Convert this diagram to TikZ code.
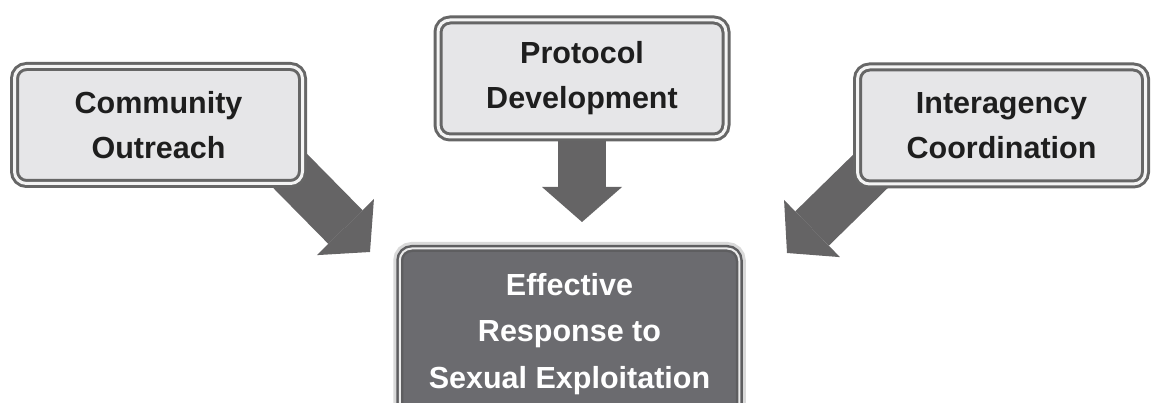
\documentclass[tikz,border=0pt]{standalone}
\usepackage{fontspec}
\setmainfont{Liberation Sans}
\usetikzlibrary{arrows.meta,backgrounds}
\definecolor{boxfill}{HTML}{E6E6E8}
\definecolor{boxline}{HTML}{666666}
\definecolor{boxgap}{HTML}{F4F4F4}
\definecolor{arrowgray}{HTML}{656465}
\definecolor{goalfill}{HTML}{6B6B6F}
\definecolor{goalline}{HTML}{5E5E60}
\definecolor{goalrim}{HTML}{D9D9D9}
\definecolor{textdark}{HTML}{1E1E1E}

\begin{document}
\begin{tikzpicture}[x=1pt,y=-1pt,
  pillar/.style={rounded corners=12pt, fill=boxfill, draw=boxline, line width=3pt,
    double=boxgap, double distance=3pt, minimum width=288pt, minimum height=117pt,
    align=center, text=textdark, font=\bfseries\fontsize{30.5}{45}\selectfont},
  goal/.style={rounded corners=12pt, fill=goalfill, draw=goalline, line width=2.5pt,
    double=white!92!black, double distance=2pt, preaction={draw=goalrim, line width=13pt},
    minimum width=339.5pt, minimum height=171pt,
    align=center, text=white, font=\bfseries\fontsize{30.5}{46.5}\selectfont},
  bigarrow/.style={draw=arrowgray, line width=48pt,
    -{Triangle[width=80pt,length=35pt,line width=0pt]}}]
\useasboundingbox (0,0) rectangle (1156,403);
% Boxes
\node[pillar] (outreach) at (158.5,125) {Community\\Outreach};
\node[pillar] (protocol) at (582,78.5) {Protocol\\Development};
\node[pillar] (interagency) at (1001.5,125.5) {Interagency\\Coordination};
\node[goal] (response) at (569.5,334) {Effective\\Response to\\Sexual Exploitation};
% Arrow tips
\coordinate (tipO) at (370,252);
\coordinate (tipP) at (582,222);
\coordinate (tipI) at (787,253);
% Arrows
\begin{scope}[on background layer]
\draw[bigarrow, shorten <=-40pt] (outreach.south east) -- (tipO);
\draw[bigarrow, shorten <=-20pt] (protocol.south) -- (tipP);
\draw[bigarrow, shorten <=-40pt] (interagency.south west) -- (tipI);
\end{scope}
\end{tikzpicture}
\end{document}
